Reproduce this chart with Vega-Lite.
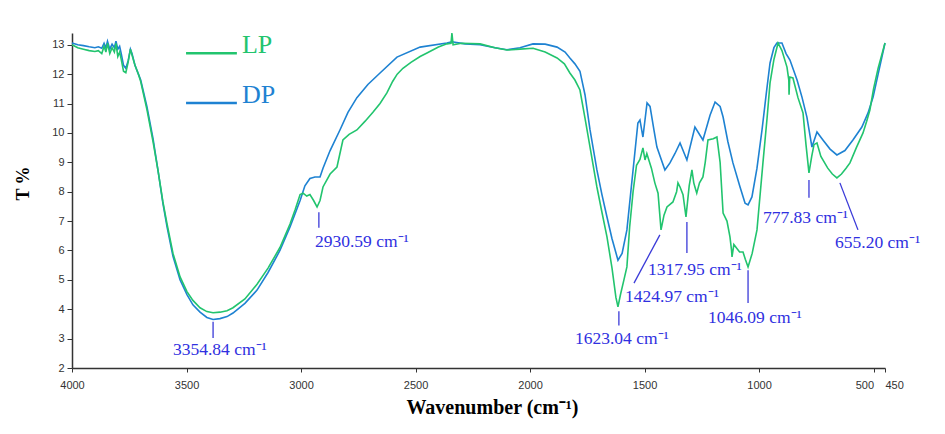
{
  "$schema": "https://vega.github.io/schema/vega-lite/v6.json",
  "width": 813,
  "height": 335,
  "autosize": {"type": "none"},
  "padding": {"left": 72, "top": 33, "right": 60, "bottom": 66},
  "background": "white",
  "config": {"view": {"stroke": null}, "axis": {"grid": false}},
  "datasets": {
    "spectra": [
      {"s":"DP","wn":4000,"t":13.06},{"s":"DP","wn":3975,"t":13.0},{"s":"DP","wn":3950,"t":12.97},{"s":"DP","wn":3925,"t":12.93},{"s":"DP","wn":3900,"t":12.9},{"s":"DP","wn":3885,"t":12.93},{"s":"DP","wn":3870,"t":12.88},{"s":"DP","wn":3860,"t":13.05},{"s":"DP","wn":3852,"t":12.9},{"s":"DP","wn":3845,"t":13.12},{"s":"DP","wn":3835,"t":12.85},{"s":"DP","wn":3825,"t":13.02},{"s":"DP","wn":3815,"t":12.9},{"s":"DP","wn":3808,"t":13.12},{"s":"DP","wn":3800,"t":12.85},{"s":"DP","wn":3792,"t":12.95},{"s":"DP","wn":3785,"t":12.7},{"s":"DP","wn":3775,"t":12.3},{"s":"DP","wn":3765,"t":12.2},{"s":"DP","wn":3755,"t":12.45},{"s":"DP","wn":3745,"t":12.85},{"s":"DP","wn":3738,"t":12.7},{"s":"DP","wn":3725,"t":12.3},{"s":"DP","wn":3710,"t":12.0},{"s":"DP","wn":3700,"t":11.8},{"s":"DP","wn":3673,"t":10.9},{"s":"DP","wn":3646,"t":9.8},{"s":"DP","wn":3624,"t":8.7},{"s":"DP","wn":3603,"t":7.6},{"s":"DP","wn":3585,"t":6.8},{"s":"DP","wn":3559,"t":5.8},{"s":"DP","wn":3528,"t":5.0},{"s":"DP","wn":3498,"t":4.5},{"s":"DP","wn":3472,"t":4.15},{"s":"DP","wn":3441,"t":3.9},{"s":"DP","wn":3411,"t":3.72},{"s":"DP","wn":3384,"t":3.65},{"s":"DP","wn":3354,"t":3.68},{"s":"DP","wn":3323,"t":3.75},{"s":"DP","wn":3297,"t":3.87},{"s":"DP","wn":3245,"t":4.2},{"s":"DP","wn":3192,"t":4.65},{"s":"DP","wn":3144,"t":5.25},{"s":"DP","wn":3092,"t":6.0},{"s":"DP","wn":3048,"t":6.8},{"s":"DP","wn":3004,"t":7.7},{"s":"DP","wn":2983,"t":8.2},{"s":"DP","wn":2961,"t":8.45},{"s":"DP","wn":2939,"t":8.5},{"s":"DP","wn":2917,"t":8.5},{"s":"DP","wn":2904,"t":8.8},{"s":"DP","wn":2873,"t":9.4},{"s":"DP","wn":2830,"t":10.1},{"s":"DP","wn":2795,"t":10.7},{"s":"DP","wn":2756,"t":11.2},{"s":"DP","wn":2708,"t":11.65},{"s":"DP","wn":2655,"t":12.04},{"s":"DP","wn":2581,"t":12.58},{"s":"DP","wn":2480,"t":12.92},{"s":"DP","wn":2363,"t":13.06},{"s":"DP","wn":2341,"t":13.1},{"s":"DP","wn":2284,"t":13.03},{"s":"DP","wn":2218,"t":13.0},{"s":"DP","wn":2153,"t":12.9},{"s":"DP","wn":2101,"t":12.83},{"s":"DP","wn":2044,"t":12.9},{"s":"DP","wn":1987,"t":13.03},{"s":"DP","wn":1934,"t":13.02},{"s":"DP","wn":1882,"t":12.92},{"s":"DP","wn":1847,"t":12.75},{"s":"DP","wn":1826,"t":12.55},{"s":"DP","wn":1804,"t":12.35},{"s":"DP","wn":1782,"t":12.1},{"s":"DP","wn":1760,"t":11.3},{"s":"DP","wn":1738,"t":10.1},{"s":"DP","wn":1708,"t":8.74},{"s":"DP","wn":1686,"t":7.9},{"s":"DP","wn":1664,"t":7.14},{"s":"DP","wn":1642,"t":6.4},{"s":"DP","wn":1616,"t":5.67},{"s":"DP","wn":1598,"t":5.9},{"s":"DP","wn":1577,"t":6.7},{"s":"DP","wn":1550,"t":8.74},{"s":"DP","wn":1529,"t":10.34},{"s":"DP","wn":1520,"t":10.44},{"s":"DP","wn":1507,"t":9.86},{"s":"DP","wn":1489,"t":11.02},{"s":"DP","wn":1476,"t":10.9},{"s":"DP","wn":1459,"t":10.1},{"s":"DP","wn":1446,"t":9.52},{"s":"DP","wn":1411,"t":8.74},{"s":"DP","wn":1389,"t":8.98},{"s":"DP","wn":1367,"t":9.3},{"s":"DP","wn":1345,"t":9.66},{"s":"DP","wn":1315,"t":9.08},{"s":"DP","wn":1280,"t":10.2},{"s":"DP","wn":1245,"t":9.76},{"s":"DP","wn":1214,"t":10.6},{"s":"DP","wn":1192,"t":11.05},{"s":"DP","wn":1170,"t":10.9},{"s":"DP","wn":1157,"t":10.54},{"s":"DP","wn":1136,"t":9.7},{"s":"DP","wn":1114,"t":8.98},{"s":"DP","wn":1083,"t":8.16},{"s":"DP","wn":1061,"t":7.61},{"s":"DP","wn":1048,"t":7.55},{"s":"DP","wn":1031,"t":7.82},{"s":"DP","wn":1009,"t":8.8},{"s":"DP","wn":987,"t":10.1},{"s":"DP","wn":969,"t":11.3},{"s":"DP","wn":952,"t":12.38},{"s":"DP","wn":935,"t":12.9},{"s":"DP","wn":922,"t":13.06},{"s":"DP","wn":900,"t":13.06},{"s":"DP","wn":882,"t":12.7},{"s":"DP","wn":865,"t":12.48},{"s":"DP","wn":834,"t":11.8},{"s":"DP","wn":812,"t":11.2},{"s":"DP","wn":791,"t":10.54},{"s":"DP","wn":769,"t":9.52},{"s":"DP","wn":747,"t":10.03},{"s":"DP","wn":721,"t":9.76},{"s":"DP","wn":690,"t":9.45},{"s":"DP","wn":660,"t":9.25},{"s":"DP","wn":625,"t":9.4},{"s":"DP","wn":590,"t":9.76},{"s":"DP","wn":551,"t":10.2},{"s":"DP","wn":524,"t":10.68},{"s":"DP","wn":502,"t":11.22},{"s":"DP","wn":480,"t":12.0},{"s":"DP","wn":450,"t":13.06},
      {"s":"LP","wn":4000,"t":13.0},{"s":"LP","wn":3975,"t":12.9},{"s":"LP","wn":3950,"t":12.85},{"s":"LP","wn":3925,"t":12.8},{"s":"LP","wn":3900,"t":12.77},{"s":"LP","wn":3885,"t":12.8},{"s":"LP","wn":3870,"t":12.7},{"s":"LP","wn":3860,"t":12.95},{"s":"LP","wn":3852,"t":12.75},{"s":"LP","wn":3845,"t":13.05},{"s":"LP","wn":3835,"t":12.7},{"s":"LP","wn":3825,"t":12.9},{"s":"LP","wn":3815,"t":12.75},{"s":"LP","wn":3808,"t":13.05},{"s":"LP","wn":3800,"t":12.6},{"s":"LP","wn":3792,"t":12.75},{"s":"LP","wn":3785,"t":12.5},{"s":"LP","wn":3775,"t":12.1},{"s":"LP","wn":3765,"t":12.05},{"s":"LP","wn":3755,"t":12.4},{"s":"LP","wn":3745,"t":12.85},{"s":"LP","wn":3738,"t":12.65},{"s":"LP","wn":3725,"t":12.3},{"s":"LP","wn":3710,"t":12.0},{"s":"LP","wn":3700,"t":11.75},{"s":"LP","wn":3673,"t":10.8},{"s":"LP","wn":3646,"t":9.7},{"s":"LP","wn":3624,"t":8.7},{"s":"LP","wn":3603,"t":7.65},{"s":"LP","wn":3585,"t":6.9},{"s":"LP","wn":3559,"t":5.9},{"s":"LP","wn":3528,"t":5.1},{"s":"LP","wn":3498,"t":4.6},{"s":"LP","wn":3472,"t":4.3},{"s":"LP","wn":3441,"t":4.05},{"s":"LP","wn":3411,"t":3.92},{"s":"LP","wn":3384,"t":3.88},{"s":"LP","wn":3354,"t":3.9},{"s":"LP","wn":3323,"t":3.95},{"s":"LP","wn":3297,"t":4.05},{"s":"LP","wn":3245,"t":4.35},{"s":"LP","wn":3192,"t":4.85},{"s":"LP","wn":3144,"t":5.4},{"s":"LP","wn":3092,"t":6.1},{"s":"LP","wn":3048,"t":6.9},{"s":"LP","wn":3025,"t":7.4},{"s":"LP","wn":3004,"t":7.9},{"s":"LP","wn":2991,"t":7.95},{"s":"LP","wn":2975,"t":7.85},{"s":"LP","wn":2961,"t":7.9},{"s":"LP","wn":2945,"t":7.7},{"s":"LP","wn":2930,"t":7.48},{"s":"LP","wn":2917,"t":7.7},{"s":"LP","wn":2904,"t":8.16},{"s":"LP","wn":2873,"t":8.6},{"s":"LP","wn":2843,"t":8.84},{"s":"LP","wn":2817,"t":9.76},{"s":"LP","wn":2790,"t":9.95},{"s":"LP","wn":2756,"t":10.1},{"s":"LP","wn":2720,"t":10.4},{"s":"LP","wn":2686,"t":10.7},{"s":"LP","wn":2655,"t":11.0},{"s":"LP","wn":2625,"t":11.36},{"s":"LP","wn":2600,"t":11.75},{"s":"LP","wn":2580,"t":12.0},{"s":"LP","wn":2555,"t":12.2},{"s":"LP","wn":2520,"t":12.4},{"s":"LP","wn":2480,"t":12.6},{"s":"LP","wn":2450,"t":12.72},{"s":"LP","wn":2400,"t":12.92},{"s":"LP","wn":2363,"t":13.03},{"s":"LP","wn":2345,"t":13.05},{"s":"LP","wn":2341,"t":13.4},{"s":"LP","wn":2336,"t":13.0},{"s":"LP","wn":2300,"t":13.05},{"s":"LP","wn":2218,"t":13.03},{"s":"LP","wn":2153,"t":12.9},{"s":"LP","wn":2101,"t":12.82},{"s":"LP","wn":2044,"t":12.85},{"s":"LP","wn":1987,"t":12.88},{"s":"LP","wn":1934,"t":12.75},{"s":"LP","wn":1882,"t":12.55},{"s":"LP","wn":1850,"t":12.35},{"s":"LP","wn":1826,"t":12.04},{"s":"LP","wn":1804,"t":11.8},{"s":"LP","wn":1782,"t":11.46},{"s":"LP","wn":1760,"t":10.5},{"s":"LP","wn":1738,"t":9.52},{"s":"LP","wn":1708,"t":8.16},{"s":"LP","wn":1686,"t":7.3},{"s":"LP","wn":1664,"t":6.46},{"s":"LP","wn":1642,"t":5.4},{"s":"LP","wn":1625,"t":4.4},{"s":"LP","wn":1616,"t":4.08},{"s":"LP","wn":1605,"t":4.5},{"s":"LP","wn":1590,"t":5.0},{"s":"LP","wn":1577,"t":5.44},{"s":"LP","wn":1565,"t":6.8},{"s":"LP","wn":1550,"t":8.0},{"s":"LP","wn":1535,"t":8.9},{"s":"LP","wn":1520,"t":9.1},{"s":"LP","wn":1507,"t":9.49},{"s":"LP","wn":1498,"t":9.08},{"s":"LP","wn":1490,"t":9.3},{"s":"LP","wn":1470,"t":8.8},{"s":"LP","wn":1455,"t":8.3},{"s":"LP","wn":1441,"t":7.95},{"s":"LP","wn":1428,"t":6.7},{"s":"LP","wn":1415,"t":7.2},{"s":"LP","wn":1402,"t":7.48},{"s":"LP","wn":1376,"t":7.65},{"s":"LP","wn":1360,"t":8.0},{"s":"LP","wn":1354,"t":8.3},{"s":"LP","wn":1345,"t":8.16},{"s":"LP","wn":1332,"t":7.9},{"s":"LP","wn":1319,"t":7.14},{"s":"LP","wn":1305,"t":8.2},{"s":"LP","wn":1293,"t":8.74},{"s":"LP","wn":1285,"t":8.3},{"s":"LP","wn":1280,"t":8.16},{"s":"LP","wn":1272,"t":7.95},{"s":"LP","wn":1260,"t":8.3},{"s":"LP","wn":1245,"t":8.5},{"s":"LP","wn":1235,"t":9.0},{"s":"LP","wn":1223,"t":9.76},{"s":"LP","wn":1200,"t":9.8},{"s":"LP","wn":1184,"t":9.86},{"s":"LP","wn":1170,"t":9.0},{"s":"LP","wn":1157,"t":7.27},{"s":"LP","wn":1140,"t":7.0},{"s":"LP","wn":1127,"t":6.46},{"s":"LP","wn":1120,"t":6.0},{"s":"LP","wn":1118,"t":5.78},{"s":"LP","wn":1110,"t":6.2},{"s":"LP","wn":1100,"t":6.1},{"s":"LP","wn":1085,"t":5.95},{"s":"LP","wn":1070,"t":5.95},{"s":"LP","wn":1060,"t":5.7},{"s":"LP","wn":1048,"t":5.44},{"s":"LP","wn":1030,"t":5.9},{"s":"LP","wn":1009,"t":6.7},{"s":"LP","wn":983,"t":8.98},{"s":"LP","wn":965,"t":10.5},{"s":"LP","wn":952,"t":11.7},{"s":"LP","wn":935,"t":12.5},{"s":"LP","wn":917,"t":13.06},{"s":"LP","wn":900,"t":12.8},{"s":"LP","wn":878,"t":12.24},{"s":"LP","wn":870,"t":11.8},{"s":"LP","wn":869,"t":11.3},{"s":"LP","wn":866,"t":11.9},{"s":"LP","wn":852,"t":11.87},{"s":"LP","wn":830,"t":11.2},{"s":"LP","wn":808,"t":10.68},{"s":"LP","wn":795,"t":9.6},{"s":"LP","wn":782,"t":8.64},{"s":"LP","wn":770,"t":9.2},{"s":"LP","wn":760,"t":9.6},{"s":"LP","wn":747,"t":9.66},{"s":"LP","wn":730,"t":9.2},{"s":"LP","wn":700,"t":8.8},{"s":"LP","wn":680,"t":8.6},{"s":"LP","wn":660,"t":8.47},{"s":"LP","wn":640,"t":8.6},{"s":"LP","wn":620,"t":8.8},{"s":"LP","wn":603,"t":8.98},{"s":"LP","wn":575,"t":9.5},{"s":"LP","wn":546,"t":10.0},{"s":"LP","wn":530,"t":10.4},{"s":"LP","wn":516,"t":10.78},{"s":"LP","wn":500,"t":11.5},{"s":"LP","wn":480,"t":12.2},{"s":"LP","wn":450,"t":13.06}
    ],
    "rules": [
      {"wn":3384,"t":3.57,"wn2":3384,"t2":3.02},
      {"wn":2922,"t":7.3,"wn2":2922,"t2":6.77},
      {"wn":1612,"t":3.93,"wn2":1612,"t2":3.45},
      {"wn":1433,"t":6.53,"wn2":1546,"t2":4.89},
      {"wn":1315,"t":6.97,"wn2":1315,"t2":5.91},
      {"wn":1048,"t":5.33,"wn2":1048,"t2":4.21},
      {"wn":782,"t":8.4,"wn2":782,"t2":7.79},
      {"wn":647,"t":8.3,"wn2":568,"t2":6.7}
    ],
    "labels": [
      {"wn":3559,"t":2.61,"label":"3354.84 cm⁻¹"},
      {"wn":2939,"t":6.3,"label":"2930.59 cm⁻¹"},
      {"wn":1804,"t":3.0,"label":"1623.04 cm⁻¹"},
      {"wn":1585,"t":4.43,"label":"1424.97 cm⁻¹"},
      {"wn":1485,"t":5.33,"label":"1317.95 cm⁻¹"},
      {"wn":1223,"t":3.7,"label":"1046.09 cm⁻¹"},
      {"wn":983,"t":7.1,"label":"777.83 cm⁻¹"},
      {"wn":668,"t":6.25,"label":"655.20 cm⁻¹"}
    ],
    "legendLines": [
      {"s":"LP","wn":3502,"wn2":3280,"t":12.71},
      {"s":"DP","wn":3502,"wn2":3280,"t":11.02}
    ],
    "legendText": [
      {"s":"LP","wn":3258,"t":12.71},
      {"s":"DP","wn":3258,"t":11.02}
    ]
  },
  "encoding": {
    "x": {
      "field": "wn", "type": "quantitative",
      "scale": {"domain": [450, 4000], "reverse": true, "nice": false, "zero": false},
      "axis": {
        "title": "Wavenumber (cm⁻¹)",
        "values": [4000, 3500, 3000, 2500, 2000, 1500, 1000, 500, 450],
        "format": "d",
        "labelFlush": false, "labelOverlap": false,
        "labelAlign": {"condition": [{"test": "datum.value == 450", "value": "left"}, {"test": "datum.value == 500", "value": "right"}], "value": "center"},
        "labelFont": "Liberation Sans", "labelFontSize": 11, "labelColor": "#333",
        "labelPadding": 7, "tickSize": 4, "tickColor": "#333",
        "domainColor": "#333", "domainWidth": 1.5,
        "titleFont": "Liberation Serif", "titleFontSize": 20, "titleFontWeight": "bold", "titleColor": "#000",
        "titleX": 420, "titleY": 29, "titleBaseline": "top"
      }
    },
    "y": {
      "field": "t", "type": "quantitative",
      "scale": {"domain": [2, 13.4], "nice": false, "zero": false},
      "axis": {
        "title": "T %",
        "values": [2, 3, 4, 5, 6, 7, 8, 9, 10, 11, 12, 13],
        "labelOverlap": false, "labelFlush": false,
        "labelFont": "Liberation Sans", "labelFontSize": 11, "labelColor": "#333",
        "labelPadding": 3, "tickSize": 5, "tickColor": "#333",
        "domainColor": "#333", "domainWidth": 1.5,
        "titleFont": "Liberation Serif", "titleFontSize": 18, "titleFontWeight": "bold", "titleColor": "#000",
        "titleX": -40, "titleY": 150
      }
    }
  },
  "layer": [
    {
      "data": {"name": "spectra"},
      "mark": {"type": "line", "strokeWidth": 1.6},
      "encoding": {
        "color": {
          "field": "s", "type": "nominal",
          "scale": {"domain": ["DP", "LP"], "range": ["#1e82d2", "#22c46e"]},
          "legend": null
        }
      }
    },
    {
      "data": {"name": "rules"},
      "mark": {"type": "rule", "color": "#3a3ad8", "strokeWidth": 1.3},
      "encoding": {
        "x2": {"field": "wn2"},
        "y2": {"field": "t2"}
      }
    },
    {
      "data": {"name": "labels"},
      "mark": {"type": "text", "align": "left", "baseline": "middle", "font": "Liberation Serif", "fontSize": 17.5, "color": "#3030e0"},
      "encoding": {
        "text": {"field": "label"}
      }
    },
    {
      "data": {"name": "legendLines"},
      "mark": {"type": "rule", "strokeWidth": 2.5},
      "encoding": {
        "x2": {"field": "wn2"},
        "color": {"field": "s", "type": "nominal", "legend": null}
      }
    },
    {
      "data": {"name": "legendText"},
      "mark": {"type": "text", "align": "left", "baseline": "alphabetic", "font": "Liberation Serif", "fontSize": 26},
      "encoding": {
        "text": {"field": "s"},
        "color": {"field": "s", "type": "nominal", "legend": null}
      }
    }
  ]
}
